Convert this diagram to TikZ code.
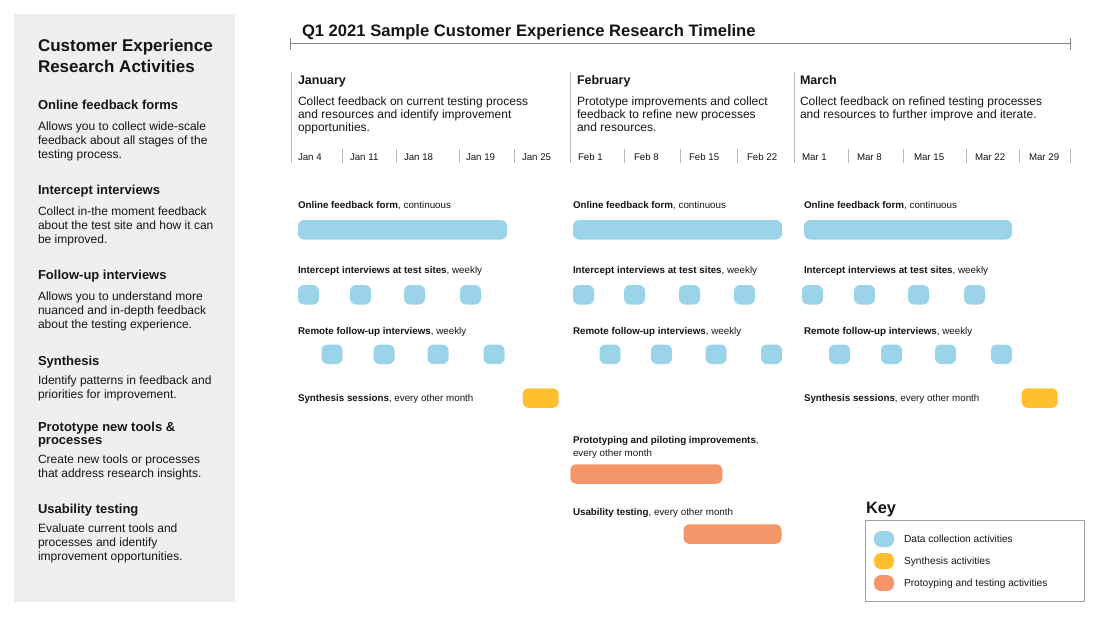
\documentclass[tikz,border=0pt]{standalone}
\usepackage{fontspec}
\setmainfont{Liberation Sans}
\usetikzlibrary{positioning}

\definecolor{ink}{HTML}{151515}
\definecolor{panelgray}{HTML}{EFEFEF}
\definecolor{datablue}{HTML}{9BD3E8}
\definecolor{synthyellow}{HTML}{FFBF2F}
\definecolor{protoorange}{HTML}{F4956A}
\definecolor{rulegray}{HTML}{858585}
\definecolor{tickgray}{HTML}{B8B8B8}
\definecolor{keygray}{HTML}{A0A0A0}

\begin{document}
\begin{tikzpicture}[
  x=1pt,y=-1pt,
  every node/.style={inner sep=0pt,outer sep=0pt,text=ink},
  sidetitle/.style={anchor=north west,align=left,font=\fontsize{17}{20.5}\selectfont\bfseries},
  sidehead/.style={anchor=north west,align=left,font=\fontsize{13}{13}\selectfont\bfseries},
  sidetext/.style={anchor=north west,align=left,font=\fontsize{12}{14}\selectfont},
  monthname/.style={anchor=base west,font=\fontsize{12.5}{14}\selectfont\bfseries},
  monthtext/.style={anchor=north west,align=left,font=\fontsize{12}{13.3}\selectfont},
  datelabel/.style={anchor=base west,font=\fontsize{9.7}{11}\selectfont},
  rowlabel/.style={anchor=base west,align=left,font=\fontsize{9.8}{12.7}\selectfont},
  keylabel/.style={anchor=base west,font=\fontsize{10.2}{12}\selectfont},
  bar/.style={anchor=north west,rounded corners=6pt,minimum height=19.5pt},
  databar/.style={bar,fill=datablue},
  synthbar/.style={bar,fill=synthyellow},
  protobar/.style={bar,fill=protoorange},
  dot/.style={databar,minimum width=21pt},
  swatch/.style={rounded corners=7pt,minimum width=20pt,minimum height=16pt},
  tick/.style={draw=tickgray,line width=0.9pt},
]
\useasboundingbox (0,0) rectangle (1101,618);

% left panel
\fill[panelgray] (14,14) rectangle (235,601.5);
\node[sidetitle] (side-title) at (38,39.6) {Customer Experience\\Research Activities};
\node[sidehead] (head-online) at (38,99.7) {Online feedback forms};
\node[sidetext] (text-online) at (38,121.7) {Allows you to collect wide-scale\\feedback about all stages of the\\testing process.};
\node[sidehead] (head-intercept) at (38,185.3) {Intercept interviews};
\node[sidetext] (text-intercept) at (38,206.4) {Collect in-the moment feedback\\about the test site and how it can\\be improved.};
\node[sidehead] (head-followup) at (38,270.3) {Follow-up interviews};
\node[sidetext] (text-followup) at (38,291.4) {Allows you to understand more\\nuanced and in-depth feedback\\about the testing experience.};
\node[sidehead] (head-synth) at (38,356) {Synthesis};
\node[sidetext] (text-synth) at (38,375.7) {Identify patterns in feedback and\\priorities for improvement.};
\node[sidehead] (head-proto) at (38,422) {Prototype new tools \&\\processes};
\node[sidetext] (text-proto) at (38,454.7) {Create new tools or processes\\that address research insights.};
\node[sidehead] (head-usability) at (38,504.3) {Usability testing};
\node[sidetext] (text-usability) at (38,523.7) {Evaluate current tools and\\processes and identify\\improvement opportunities.};

% title and range line
\node[anchor=base west,font=\fontsize{16.6}{18}\selectfont\bfseries] (title) at (302,36.4)
  {Q1 2021 Sample Customer Experience Research Timeline};
\draw[rulegray,line width=1pt] (290,44) -- (1070,44);
\draw[rulegray,line width=1pt] (290,38) -- (290,50) (1070,38) -- (1070,50);

% months
\foreach \x in {291,570,794} \draw[tick] (\x,72) -- (\x,163);
\node[monthname] (jan) at (298,84.5) {January};
\node[monthtext] (jan-text) at (298,96.4) {Collect feedback on current testing process\\and resources and identify improvement\\opportunities.};
\node[monthname] (feb) at (577,84.5) {February};
\node[monthtext] (feb-text) at (577,96.4) {Prototype improvements and collect\\feedback to refine new processes\\and resources.};
\node[monthname] (mar) at (800,84.5) {March};
\node[monthtext] (mar-text) at (800,96.4) {Collect feedback on refined testing processes\\and resources to further improve and iterate.};

% week ticks and dates
\foreach \x in {342,396,459,514,624,680,737,848,903,966,1019,1070}
  \draw[tick] (\x,149) -- (\x,163);
\foreach \x/\d [count=\i] in {298/Jan 4,350/Jan 11,404/Jan 18,466/Jan 19,522/Jan 25,
    578/Feb 1,634/Feb 8,689/Feb 15,747/Feb 22,
    802/Mar 1,857/Mar 8,914/Mar 15,975/Mar 22,1029/Mar 29}
  \node[datelabel] (date-\i) at (\x,160) {\d};

% online feedback form
\foreach \m/\x/\w in {jan/298/209,feb/573/209,mar/804/208}{
  \node[rowlabel] (\m-online-label) at (\x,208.5) {\textbf{Online feedback form}, continuous};
  \node[databar,minimum width=\w pt] (\m-online) at (\x,220) {};
}

% intercept interviews
\foreach \m/\x in {jan/298,feb/573,mar/804}
  \node[rowlabel] (\m-intercept-label) at (\x,273.5) {\textbf{Intercept interviews at test sites}, weekly};
\foreach \m/\xs in {jan/{298,350,404,460},feb/{573,624,679,734},mar/{802,854,908,964}}
  \foreach \x [count=\i] in \xs
    \node[dot] (\m-intercept-\i) at (\x,285) {};

% remote follow-up interviews
\foreach \m/\x in {jan/298,feb/573,mar/804}
  \node[rowlabel] (\m-remote-label) at (\x,334) {\textbf{Remote follow-up interviews}, weekly};
\foreach \m/\xs in {jan/{321.5,373.5,427.5,483.5},feb/{599.5,651,705.5,761},mar/{829,881,935,991}}
  \foreach \x [count=\i] in \xs
    \node[dot] (\m-remote-\i) at (\x,344.5) {};

% synthesis sessions
\node[rowlabel] (jan-synth-label) at (298,401) {\textbf{Synthesis sessions}, every other month};
\node[synthbar,minimum width=36pt] (jan-synth) at (522.7,388.3) {};
\node[rowlabel] (mar-synth-label) at (804,401) {\textbf{Synthesis sessions}, every other month};
\node[synthbar,minimum width=36pt] (mar-synth) at (1021.7,388.3) {};

% prototyping and usability testing
\node[rowlabel,anchor=north west] (proto-label) at (573,436.5)
  {\textbf{Prototyping and piloting improvements},\\every other month};
\node[protobar,minimum width=152pt] (proto) at (570.4,464.3) {};
\node[rowlabel] (usability-label) at (573,515) {\textbf{Usability testing}, every other month};
\node[protobar,minimum width=98pt] (usability) at (683.5,524.3) {};

% key
\node[anchor=base west,font=\fontsize{16.4}{18}\selectfont\bfseries] (key-title) at (866,513.2) {Key};
\draw[keygray,line width=1pt] (865,520) rectangle (1084,601);
\foreach \c/\t/\y [count=\i] in {datablue/Data collection activities/539,
    synthyellow/Synthesis activities/561,
    protoorange/Protoyping and testing activities/583}{
  \node[swatch,fill=\c] (swatch-\i) at (884,\y) {};
  \node[keylabel] (key-\i) at (904,\y+3.6) {\t};
}
\end{tikzpicture}
\end{document}
